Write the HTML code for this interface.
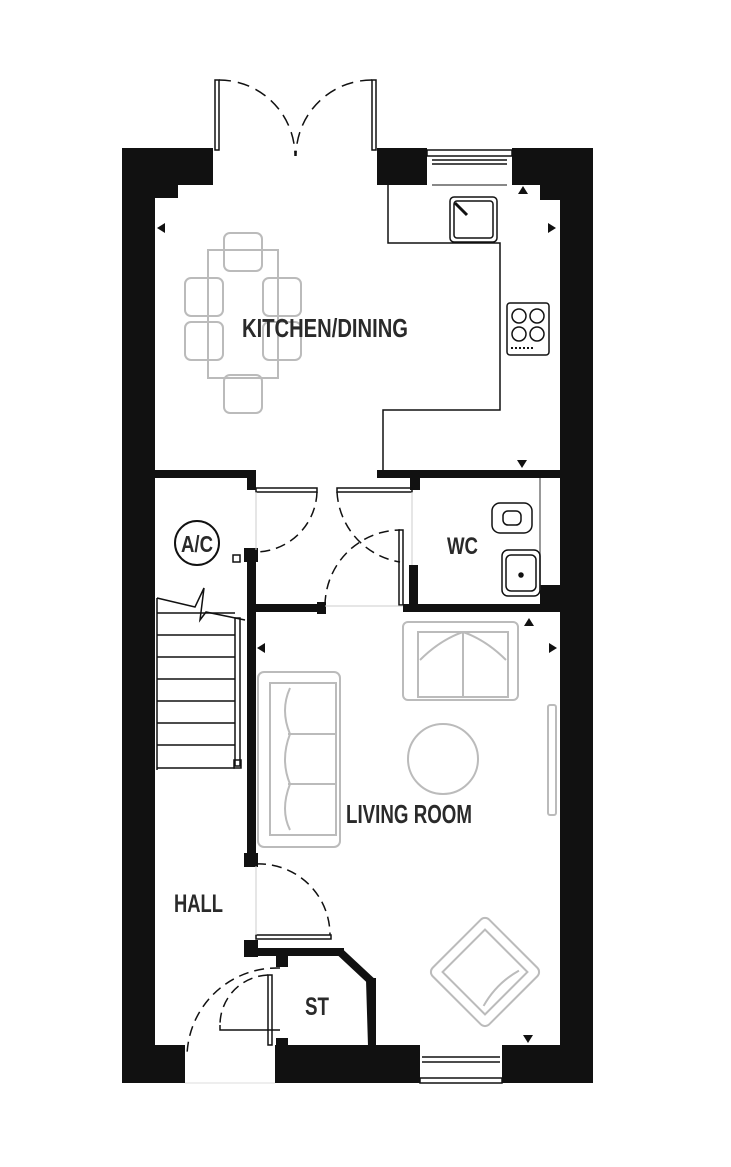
<!DOCTYPE html>
<html><head><meta charset="utf-8"><style>
html,body{margin:0;padding:0;background:#fff;}
svg{display:block}
text{font-family:"Liberation Sans",sans-serif;font-weight:bold;fill:#2a2a2a;}
</style></head><body>
<svg width="731" height="1167" viewBox="0 0 731 1167" xmlns="http://www.w3.org/2000/svg">
<g fill="#111">
<rect x="122" y="148" width="33" height="935"/>
<rect x="122" y="148" width="91" height="37"/>
<rect x="122" y="185" width="56" height="13"/>
<rect x="560" y="148" width="33" height="935"/>
<rect x="512" y="148" width="81" height="37"/>
<rect x="540" y="185" width="53" height="15"/>
<rect x="377" y="148" width="50" height="37"/>
<rect x="122" y="1045" width="63" height="38"/>
<rect x="275" y="1045" width="145" height="38"/>
<rect x="502" y="1045" width="91" height="38"/>
<rect x="155" y="470" width="95" height="8"/>
<rect x="247" y="470" width="9" height="20"/>
<rect x="377" y="470" width="183" height="8"/>
<rect x="410" y="470" width="10" height="20"/>
<rect x="247" y="550" width="9" height="315"/>
<rect x="244" y="548" width="14" height="14"/>
<rect x="250" y="604" width="75" height="8"/>
<rect x="317" y="602" width="9" height="12"/>
<rect x="403" y="604" width="157" height="8"/>
<rect x="409" y="565" width="9" height="47"/>
<rect x="540" y="585" width="20" height="27"/>
<rect x="244" y="853" width="14" height="14"/>
<rect x="244" y="940" width="14" height="17"/>
<rect x="244" y="948" width="100" height="8"/>
<rect x="276" y="955" width="12" height="12"/>
<rect x="276" y="1038" width="12" height="10"/>
<rect x="368" y="978" width="8" height="70"/>
</g>
<polyline points="340,952 370,980 372,1046" fill="none" stroke="#111" stroke-width="8"/>
<g fill="none" stroke="#111" stroke-width="1.5">
<rect x="427" y="150" width="85" height="6"/>
<line x1="432" y1="160" x2="507" y2="160"/><line x1="432" y1="164" x2="507" y2="164"/>
<line x1="432" y1="185" x2="507" y2="185" stroke-width="1"/>
<line x1="422" y1="1057" x2="500" y2="1057"/><line x1="422" y1="1062" x2="500" y2="1062"/>
<rect x="420" y="1078" width="82" height="5"/>
<rect x="215" y="80" width="4" height="70"/>
<rect x="372" y="80" width="4" height="70"/>
<path d="M219 80 A76 76 0 0 1 295 156" stroke-dasharray="12 7"/>
<path d="M372 80 A76 76 0 0 0 296 156" stroke-dasharray="12 7"/>
<polyline points="388,185 388,243 500,243 500,410 383,410 383,470"/>
<rect x="450" y="197" width="47" height="45" rx="4"/>
<rect x="454" y="201" width="39" height="37" rx="3"/>
<line x1="455" y1="203" x2="467" y2="215" stroke-width="3"/>
<rect x="507" y="303" width="42" height="52" rx="3"/>
<circle cx="519" cy="316" r="7"/><circle cx="537" cy="316" r="7"/>
<circle cx="519" cy="334" r="7"/><circle cx="537" cy="334" r="7"/>
<line x1="511" y1="348" x2="535" y2="348" stroke-dasharray="2 2" stroke-width="2"/>
<rect x="256" y="488" width="61" height="4"/>
<path d="M317 492 A62 62 0 0 1 256 552" stroke-dasharray="10 6"/>
<rect x="337" y="488" width="75" height="4"/>
<path d="M337 492 A75 75 0 0 0 400 562" stroke-dasharray="10 6"/>
<rect x="399" y="530" width="4" height="75"/>
<path d="M325 605 A76 76 0 0 1 400 530" stroke-dasharray="10 6"/>
<line x1="256" y1="492" x2="256" y2="550" stroke="#ccc" stroke-width="1"/>
<line x1="412" y1="492" x2="412" y2="565" stroke="#ccc" stroke-width="1"/>
<line x1="325" y1="606" x2="403" y2="606" stroke="#ccc" stroke-width="1"/>
<circle cx="197" cy="543" r="22" stroke-width="2"/>
<rect x="233" y="555" width="7" height="7"/>
<line x1="540" y1="478" x2="540" y2="590" stroke="#777"/>
<rect x="492" y="503" width="40" height="30" rx="8"/>
<rect x="503" y="511" width="18" height="14" rx="5"/>
<rect x="502" y="550" width="38" height="46" rx="6"/>
<rect x="506" y="555" width="30" height="36" rx="5"/>
<circle cx="521" cy="575" r="2" fill="#111"/>
<line x1="157" y1="598" x2="157" y2="770"/>
<g stroke-width="1.5">
<line x1="157" y1="613" x2="235" y2="613"/><line x1="157" y1="635" x2="235" y2="635"/>
<line x1="157" y1="657" x2="235" y2="657"/><line x1="157" y1="679" x2="235" y2="679"/>
<line x1="157" y1="701" x2="235" y2="701"/><line x1="157" y1="723" x2="235" y2="723"/>
<line x1="157" y1="745" x2="235" y2="745"/><line x1="157" y1="768" x2="235" y2="768"/>
</g>
<polyline points="157,598 195,607 204,588 200,620 206,612 245,620"/>
<rect x="235" y="618" width="5" height="148"/>
<rect x="234" y="760" width="7" height="8"/>
<rect x="256" y="935" width="75" height="4"/>
<path d="M256 864 A71 71 0 0 1 330 935" stroke-dasharray="10 6"/>
<line x1="256" y1="866" x2="256" y2="935" stroke="#ccc" stroke-width="1"/>
<rect x="268" y="975" width="4" height="70"/>
<path d="M280 968 A90 90 0 0 0 187 1055" stroke-dasharray="10 6"/>
<polyline points="220,1025 220,1030 280,1030"/>
<path d="M268 975 A50 50 0 0 0 220 1025" stroke-dasharray="10 6"/>
<line x1="185" y1="1083" x2="275" y2="1083" stroke="#ddd" stroke-width="1"/>
</g>
<g fill="#111">
<polygon points="157,228 165,223 165,233"/>
<polygon points="556,228 548,223 548,233"/>
<polygon points="523,186 518,194 528,194"/>
<polygon points="522,468 517,460 527,460"/>
<polygon points="257,648 265,643 265,653"/>
<polygon points="557,648 549,643 549,653"/>
<polygon points="529,618 524,626 534,626"/>
<polygon points="528,1043 523,1035 533,1035"/>
</g>
<g fill="none" stroke="#bbb" stroke-width="2">
<rect x="208" y="250" width="70" height="128"/>
<rect x="224" y="233" width="38" height="38" rx="6"/>
<rect x="224" y="375" width="38" height="38" rx="6"/>
<rect x="185" y="278" width="38" height="38" rx="6"/>
<rect x="185" y="322" width="38" height="38" rx="6"/>
<rect x="263" y="278" width="38" height="38" rx="6"/>
<rect x="263" y="322" width="38" height="38" rx="6"/>
<rect x="403" y="622" width="115" height="78" rx="5"/>
<rect x="418" y="632" width="90" height="65"/>
<line x1="463" y1="632" x2="463" y2="697"/>
<path d="M420 660 Q440 640 463 632 Q486 640 506 660"/>
<rect x="258" y="672" width="82" height="175" rx="6"/>
<rect x="270" y="683" width="66" height="152"/>
<line x1="288" y1="734" x2="336" y2="734"/><line x1="288" y1="784" x2="336" y2="784"/>
<path d="M290 688 Q280 710 290 734 Q280 760 290 784 Q280 810 290 830"/>
<circle cx="443" cy="759" r="35"/>
<rect x="548" y="705" width="8" height="110" rx="2"/>
<g transform="rotate(-45 485 972)"><rect x="445" y="932" width="80" height="80" rx="6"/><rect x="455" y="942" width="60" height="60"/><path d="M460 995 Q485 988 510 995"/></g>
</g>
<text x="242" y="337" font-size="26" textLength="166" lengthAdjust="spacingAndGlyphs">KITCHEN/DINING</text>
<text x="447" y="554" font-size="24" textLength="31" lengthAdjust="spacingAndGlyphs">WC</text>
<text x="181" y="552" font-size="23" textLength="32" lengthAdjust="spacingAndGlyphs">A/C</text>
<text x="346" y="823" font-size="26" textLength="126" lengthAdjust="spacingAndGlyphs">LIVING ROOM</text>
<text x="174" y="912" font-size="25" textLength="49" lengthAdjust="spacingAndGlyphs">HALL</text>
<text x="305" y="1015" font-size="25" textLength="24" lengthAdjust="spacingAndGlyphs">ST</text>
</svg>
</body></html>
